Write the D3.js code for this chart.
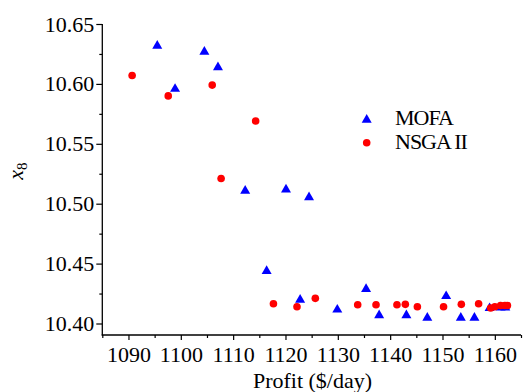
<!DOCTYPE html>
<html><head><meta charset="utf-8">
<script src="https://cdn.jsdelivr.net/npm/d3@7"></script>
<style>body{margin:0;background:#fff}svg{display:block}text{font-family:"Times New Roman",Times,"Liberation Serif",Tinos,"Nimbus Roman",serif}</style>
</head><body>
<svg id="c" width="523" height="392"></svg>
<script>
// MOFA (triangles)
const mofaProfit = [1095.5,1104.5,1107.1,1098.9,1112.3,1120.1,1124.5,1116.4,1122.8,1129.9,1135.4,1137.9,1143.1,1147.1,1150.7,1153.5,1156.1,1159.0,1161.1,1162.0];
const mofaX8     = [10.633,10.628,10.615,10.597,10.512,10.513,10.5065,10.445,10.421,10.4127,10.430,10.408,10.408,10.406,10.424,10.406,10.406,10.414,10.4145,10.4145];
// NSGA II (circles)
const nsgaProfit = [1090.7,1097.6,1106.0,1114.3,1107.7,1117.7,1122.2,1125.7,1133.8,1137.3,1141.3,1142.9,1145.2,1150.2,1153.6,1156.9,1159.2,1160.0,1161.1,1161.9,1162.4];
const nsgaX8     = [10.607,10.590,10.599,10.569,10.521,10.4165,10.414,10.421,10.4157,10.4157,10.4157,10.416,10.414,10.414,10.416,10.4165,10.413,10.414,10.415,10.415,10.415];
const xMajorTicks = [1090,1100,1110,1120,1130,1140,1150,1160];
const xMinorTicks = [1085,1095,1105,1115,1125,1135,1145,1155,1165];
const yMajorTicks = [10.40,10.45,10.50,10.55,10.60,10.65];
const yMinorTicks = [10.425,10.475,10.525,10.575,10.625];
const seriesNames = ["MOFA","NSGA II"];
const seriesColors = ["#0000ff","#ff0000"];

const FF = '"Times New Roman",Times,"Liberation Serif",Tinos,"Nimbus Roman",serif';
const svg = d3.select("#c");
const x = d3.scaleLinear().domain([1085,1165]).range([102.3,521]);
const y = d3.scaleLinear().domain([10.3904,10.65]).range([335,24]);
const FS = 22;

// axes
const gx = svg.append("g").attr("transform","translate(0,335)");
gx.call(d3.axisBottom(x).tickValues(xMinorTicks).tickSize(3).tickFormat(""));
const gx2 = svg.append("g").attr("transform","translate(0,335)");
gx2.call(d3.axisBottom(x).tickValues(xMajorTicks).tickSize(5).tickPadding(6).tickFormat(d3.format("d")));
const gy = svg.append("g").attr("transform","translate(102.3,0)");
gy.call(d3.axisLeft(y).tickValues(yMinorTicks).tickSize(3).tickFormat(""));
const gy2 = svg.append("g").attr("transform","translate(102.3,0)");
gy2.call(d3.axisLeft(y).tickValues(yMajorTicks).tickSize(6).tickPadding(2).tickFormat(d3.format(".2f")));
svg.selectAll("g").attr("font-family",FF).attr("font-size",FS);
svg.selectAll(".tick text").attr("fill","#000");
svg.selectAll(".domain").remove();
svg.selectAll(".tick line").attr("stroke","#000").attr("stroke-width",1.2);
// axis lines
svg.append("line").attr("x1",102.3).attr("x2",102.3).attr("y1",y(10.65)).attr("y2",335.6).attr("stroke","#000").attr("stroke-width",1.3);
svg.append("line").attr("x1",101.7).attr("x2",x(1165)).attr("y1",335).attr("y2",335).attr("stroke","#000").attr("stroke-width",1.3);

// axis titles
svg.append("text").attr("x",312.5).attr("y",388).attr("text-anchor","middle").attr("font-family",FF).attr("font-size",FS).text("Profit ($/day)");
const yt = svg.append("text").attr("transform","translate(23,171) rotate(-90)").attr("text-anchor","middle").attr("font-family",FF).attr("font-size",FS);
yt.append("tspan").attr("font-style","italic").text("x");
yt.append("tspan").attr("font-size",15).attr("dy",4).text("8");

// markers
const tri = (s)=>{const h=s*Math.sqrt(3)/2;return `M0,${-h/2}L${s/2},${h/2}L${-s/2},${h/2}Z`;};
svg.append("g").selectAll("path").data(d3.zip(mofaProfit,mofaX8)).join("path")
  .attr("d",tri(10)).attr("fill",seriesColors[0])
  .attr("transform",d=>`translate(${x(d[0])},${y(d[1])})`);
svg.append("g").selectAll("circle").data(d3.zip(nsgaProfit,nsgaX8)).join("circle")
  .attr("cx",d=>x(d[0])).attr("cy",d=>y(d[1])).attr("r",3.8).attr("fill",seriesColors[1]);

// legend
const lg = svg.append("g");
lg.append("path").attr("d",tri(10)).attr("fill",seriesColors[0]).attr("transform","translate(366.7,118.3)");
lg.append("circle").attr("cx",366.7).attr("cy",142.7).attr("r",3.8).attr("fill",seriesColors[1]);
lg.selectAll("text").data(seriesNames).join("text")
  .attr("x",395).attr("y",(d,i)=>125+i*24.3).attr("font-family",FF).attr("font-size",FS).attr("letter-spacing",-1).text(d=>d);
</script>
</body></html>
